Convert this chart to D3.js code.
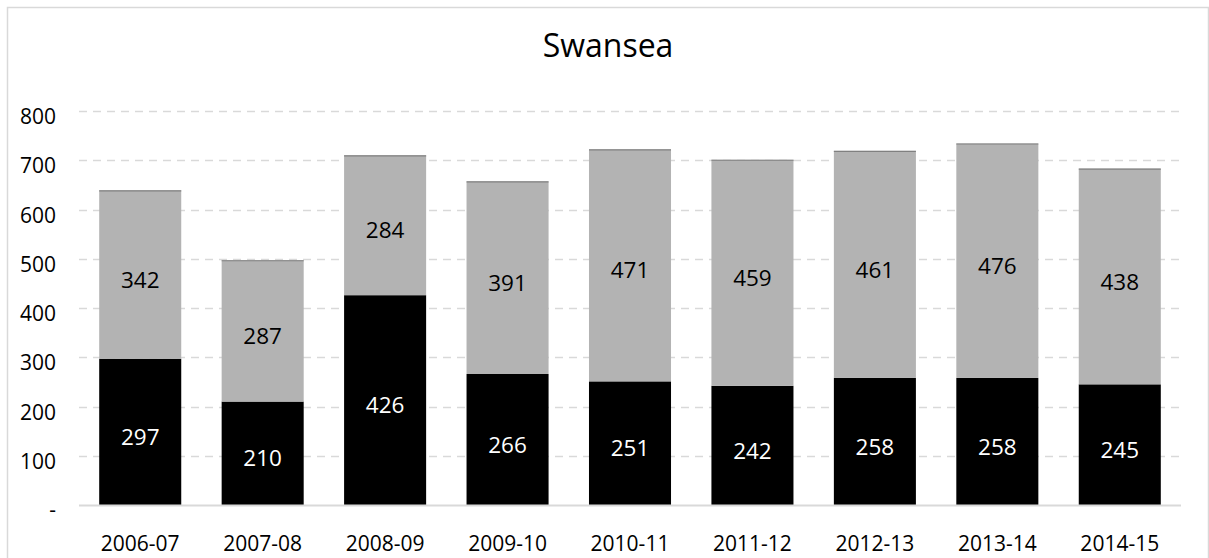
<!DOCTYPE html>
<html>
<head>
<meta charset="utf-8">
<script src="https://cdn.jsdelivr.net/npm/d3@7"></script>
<style>
  html, body { margin: 0; padding: 0; background: #fff; }
  svg { display: block; font-family: "Open Sans", "Noto Sans", sans-serif; }
</style>
</head>
<body>
<svg id="chart" width="1209" height="558"></svg>
<script>
// Swansea: yearly counts split into two stacked parts
const years = ["2006-07", "2007-08", "2008-09", "2009-10", "2010-11", "2011-12", "2012-13", "2013-14", "2014-15"];
const lowerValues = [297, 210, 426, 266, 251, 242, 258, 258, 245];
const upperValues = [342, 287, 284, 391, 471, 459, 461, 476, 438];
const yTicks = [0, 100, 200, 300, 400, 500, 600, 700, 800];
const title = "Swansea";

const svg = d3.select("#chart");
const W = 1209, H = 558;
const margin = { left: 79, right: 28, top: 111, bottom: 53 };
const FONT = "Open Sans, Noto Sans, sans-serif";

// outer frame
svg.append("rect")
  .attr("x", 7.5).attr("y", 7.5)
  .attr("width", W - 8).attr("height", H)
  .attr("fill", "none").attr("stroke", "#d9d9d9").attr("stroke-width", 1.5);

const x = d3.scaleBand()
  .domain(years)
  .range([margin.left, W - margin.right])
  .paddingInner(0.33).paddingOuter(0.165);

const y = d3.scaleLinear()
  .domain([0, 800])
  .range([H - margin.bottom, margin.top]);

// dashed gridlines
svg.append("g")
  .selectAll("line")
  .data(yTicks.filter(d => d > 0))
  .join("line")
  .attr("x1", margin.left).attr("x2", W - margin.right)
  .attr("y1", d => Math.round(y(d)) + 0.5).attr("y2", d => Math.round(y(d)) + 0.5)
  .attr("stroke", "#d9d9d9").attr("stroke-width", 1.5)
  .attr("stroke-dasharray", "8,6");

// y axis labels
const yAxis = d3.axisLeft(y)
  .tickValues(yTicks)
  .tickSize(0)
  .tickPadding(0)
  .tickFormat(d => d === 0 ? "-" : d);
const gy = svg.append("g")
  .attr("transform", `translate(${margin.left - 23},0)`)
  .call(yAxis);
gy.select(".domain").remove();
gy.selectAll("text")
  .attr("font-size", 21).attr("fill", "#000")
  .attr("font-family", FONT)
  .attr("dy", d => d === 0 ? "0.55em" : "0.6em");

// stacked bars
const rows = years.map((yr, i) => ({ year: yr, lower: lowerValues[i], upper: upperValues[i] }));
const stack = d3.stack().keys(["lower", "upper"])(rows);
const fills = { lower: "#000000", upper: "#b3b3b3" };
const textFill = { lower: "#ffffff", upper: "#000000" };

stack.forEach(layer => {
  const g = svg.append("g");
  g.selectAll("rect")
    .data(layer)
    .join("rect")
    .attr("x", d => x(d.data.year))
    .attr("width", x.bandwidth())
    .attr("y", d => y(d[1]))
    .attr("height", d => y(d[0]) - y(d[1]))
    .attr("fill", fills[layer.key]);
  if (layer.key === "upper") {
    g.selectAll("line")
      .data(layer)
      .join("line")
      .attr("x1", d => x(d.data.year)).attr("x2", d => x(d.data.year) + x.bandwidth())
      .attr("y1", d => y(d[1]) + 0.5).attr("y2", d => y(d[1]) + 0.5)
      .attr("stroke", "#808080").attr("stroke-width", 1.2);
  }
  g.selectAll("text")
    .data(layer)
    .join("text")
    .attr("x", d => x(d.data.year) + x.bandwidth() / 2)
    .attr("y", d => (y(d[0]) + y(d[1])) / 2 + 5)
    .attr("dy", "0.36em")
    .attr("text-anchor", "middle")
    .attr("font-family", FONT)
    .attr("font-size", 22.5)
    .attr("fill", textFill[layer.key])
    .text(d => d.data[layer.key]);
});

// baseline
svg.append("line")
  .attr("x1", margin.left).attr("x2", W - margin.right)
  .attr("y1", y(0) + 0.5).attr("y2", y(0) + 0.5)
  .attr("stroke", "#d9d9d9").attr("stroke-width", 2);

// x axis labels
const xAxis = d3.axisBottom(x).tickSize(0).tickPadding(0);
const gx = svg.append("g")
  .attr("transform", `translate(0,${y(0) + 46})`)
  .call(xAxis);
gx.select(".domain").remove();
gx.selectAll("text")
  .attr("dy", "0")
  .attr("font-size", 21).attr("fill", "#000")
  .attr("font-family", FONT);

// title
svg.append("text")
  .attr("x", 608)
  .attr("y", 57)
  .attr("text-anchor", "middle")
  .attr("font-family", FONT)
  .attr("font-size", 32)
  .attr("fill", "#000")
  .text(title);
</script>
</body>
</html>
